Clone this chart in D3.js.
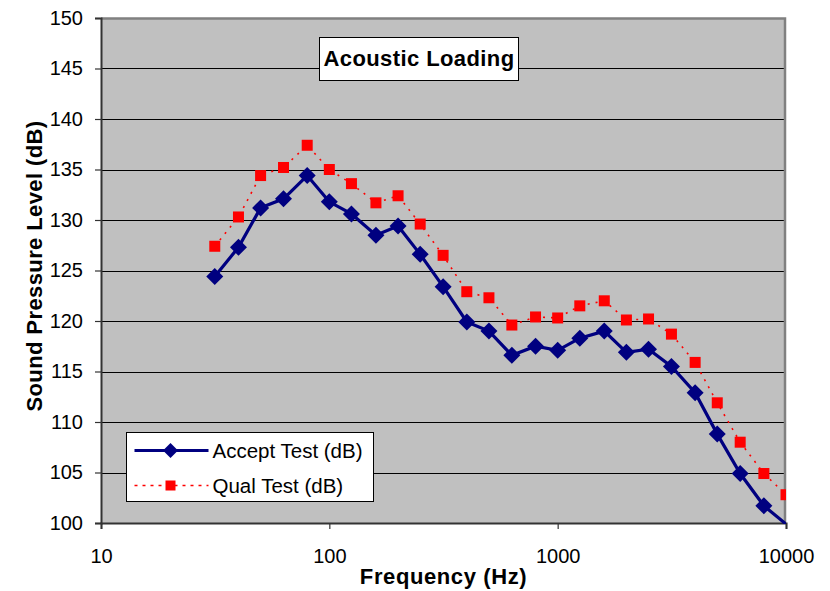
<!DOCTYPE html>
<html>
<head>
<meta charset="utf-8">
<script src="https://cdn.jsdelivr.net/npm/d3@7"></script>
<style>
  body { margin: 0; background: #fff; }
  svg { font-family: "Liberation Sans", Arial, sans-serif; }
</style>
</head>
<body>
<div id="chart"></div>
<script>
// one-third octave band centre frequencies (Hz)
const freqs = [31.5, 40, 50, 63, 80, 100, 125, 160, 200, 250, 315, 400, 500, 630, 800,
               1000, 1250, 1600, 2000, 2500, 3150, 4000, 5000, 6300, 8000, 10000]
const acceptTest = [124.4, 127.3, 131.2, 132.1, 134.4, 131.8, 130.6, 128.5, 129.4, 126.6, 123.4, 119.9, 119.0, 116.6, 117.5,
                    117.1, 118.3, 119.0, 116.9, 117.2, 115.5, 112.9, 108.8, 104.9, 101.7, 99.9]
const qualTest = [127.4, 130.3, 134.4, 135.2, 137.4, 135.0, 133.6, 131.7, 132.4, 129.6, 126.5, 122.9, 122.3, 119.6, 120.4,
                  120.3, 121.5, 122.0, 120.1, 120.2, 118.7, 115.9, 111.9, 108.0, 104.9, 102.8]
const yTicks = [100, 105, 110, 115, 120, 125, 130, 135, 140, 145, 150]
const xTicks = [10, 100, 1000, 10000]
const seriesNames = ["Accept Test (dB)", "Qual Test (dB)"]

const width = 830, height = 591
const margin = {top: 18, right: 44, bottom: 68, left: 101}
const plotW = width - margin.left - margin.right
const plotH = height - margin.top - margin.bottom

const svg = d3.select("#chart").append("svg")
    .attr("width", width)
    .attr("height", height)

const g = svg.append("g")
    .attr("transform", "translate(" + margin.left + "," + margin.top + ")")

// scales
const x = d3.scaleLog().domain([10, 10000]).range([0, plotW])
const y = d3.scaleLinear().domain([100, 150]).range([plotH, 0])

// plot background
g.append("rect")
    .attr("width", plotW)
    .attr("height", plotH)
    .attr("fill", "#c0c0c0")

// gridlines
g.append("g")
    .selectAll("line")
    .data(yTicks.filter(d => d > 100 && d < 150))
    .enter()
    .append("line")
    .attr("x1", 0).attr("x2", plotW)
    .attr("y1", d => Math.round(y(d)) + 0.5).attr("y2", d => Math.round(y(d)) + 0.5)
    .attr("stroke", "#000")
    .attr("stroke-width", 1.2)

// top / right border
g.append("path")
    .attr("d", `M0,0.5H${plotW - 1}V${plotH}`)
    .attr("fill", "none")
    .attr("stroke", "#808080")
    .attr("stroke-width", 2.5)

// y axis
const yAxis = g.append("g")
    .call(d3.axisLeft(y).tickValues(yTicks).tickSize(6).tickPadding(12))
yAxis.select(".domain").attr("stroke", "#333").attr("stroke-width", 2)
yAxis.selectAll(".tick line").attr("stroke", "#333").attr("stroke-width", 1.2)
yAxis.selectAll("text").style("font-size", "20px").attr("fill", "#000")

// x axis
const xAxis = g.append("g")
    .attr("transform", "translate(0," + plotH + ")")
    .call(d3.axisBottom(x).tickValues(xTicks).tickFormat(d3.format("d")).tickSize(6).tickPadding(20))
xAxis.select(".domain").attr("stroke", "#333").attr("stroke-width", 2)
xAxis.selectAll(".tick line").attr("stroke", "#333").attr("stroke-width", 1.2)
xAxis.selectAll("text").style("font-size", "20px").attr("fill", "#000")

// axis titles
svg.append("text")
    .attr("transform", "translate(42,266) rotate(-90)")
    .attr("text-anchor", "middle")
    .style("font-size", "22px")
    .style("font-weight", "bold")
    .style("letter-spacing", "0.4px")
    .text("Sound Pressure Level (dB)")

svg.append("text")
    .attr("x", margin.left + plotW / 2)
    .attr("y", 584)
    .attr("text-anchor", "middle")
    .style("font-size", "22px")
    .style("font-weight", "bold")
    .style("letter-spacing", "0.6px")
    .text("Frequency (Hz)")

// clip to plot area
svg.append("defs").append("clipPath").attr("id", "plot-clip")
    .append("rect").attr("width", plotW).attr("height", plotH + 1)

const line = d3.line()
    .x((d, i) => x(freqs[i]))
    .y(d => y(d))

const marks = g.append("g").attr("clip-path", "url(#plot-clip)")

// qual test: red dotted line + squares
marks.append("path")
    .datum(qualTest)
    .attr("d", line)
    .attr("fill", "none")
    .attr("stroke", "#ff0000")
    .attr("stroke-width", 1.6)
    .attr("stroke-dasharray", "2,6")

// accept test: navy solid line + diamonds
marks.append("path")
    .datum(acceptTest)
    .attr("d", line)
    .attr("fill", "none")
    .attr("stroke", "#000080")
    .attr("stroke-width", 3.2)

const diamond = s => `M0,${-s}L${s},0L0,${s}L${-s},0Z`

// markers below the axis minimum are not drawn (as in the original)
marks.append("g")
    .selectAll("path")
    .data(acceptTest.map((v, i) => [freqs[i], v]).filter(d => d[1] >= 100))
    .enter()
    .append("path")
    .attr("transform", d => `translate(${x(d[0])},${y(d[1])})`)
    .attr("d", diamond(8.5))
    .attr("fill", "#000080")

marks.append("g")
    .selectAll("rect")
    .data(qualTest.map((v, i) => [freqs[i], v]))
    .enter()
    .append("rect")
    .attr("x", d => x(d[0]) - 5.5)
    .attr("y", d => y(d[1]) - 5.5)
    .attr("width", 11)
    .attr("height", 11)
    .attr("fill", "#ff0000")

// title box
const title = svg.append("g").attr("transform", "translate(319.5,37.5)")
title.append("rect")
    .attr("width", 199)
    .attr("height", 43)
    .attr("fill", "#fff")
    .attr("stroke", "#000")
    .attr("stroke-width", 1)
title.append("text")
    .attr("x", 99.5)
    .attr("y", 28)
    .attr("text-anchor", "middle")
    .style("font-size", "22px")
    .style("font-weight", "bold")
    .style("letter-spacing", "0.4px")
    .text("Acoustic Loading")

// legend
const legend = svg.append("g").attr("transform", "translate(126.5,432.5)")
legend.append("rect")
    .attr("width", 247)
    .attr("height", 69)
    .attr("fill", "#fff")
    .attr("stroke", "#000")
    .attr("stroke-width", 1)

const legendRows = legend.selectAll("g.row")
    .data(seriesNames)
    .enter()
    .append("g")
    .attr("class", "row")
    .attr("transform", (d, i) => `translate(0,${18 + i * 35})`)

legendRows.append("line")
    .attr("x1", 8).attr("x2", 82)
    .attr("stroke", (d, i) => i == 0 ? "#000080" : "#ff0000")
    .attr("stroke-width", (d, i) => i == 0 ? 3.2 : 1.6)
    .attr("stroke-dasharray", (d, i) => i == 0 ? null : "3,5")

legendRows.filter((d, i) => i == 0).append("path")
    .attr("transform", "translate(44,0)")
    .attr("d", diamond(7.5))
    .attr("fill", "#000080")

legendRows.filter((d, i) => i == 1).append("rect")
    .attr("x", 39).attr("y", -5)
    .attr("width", 10).attr("height", 10)
    .attr("fill", "#ff0000")

legendRows.append("text")
    .attr("x", 86)
    .attr("dy", "0.35em")
    .style("font-size", "20.5px")
    .text(d => d)
</script>
</body>
</html>
